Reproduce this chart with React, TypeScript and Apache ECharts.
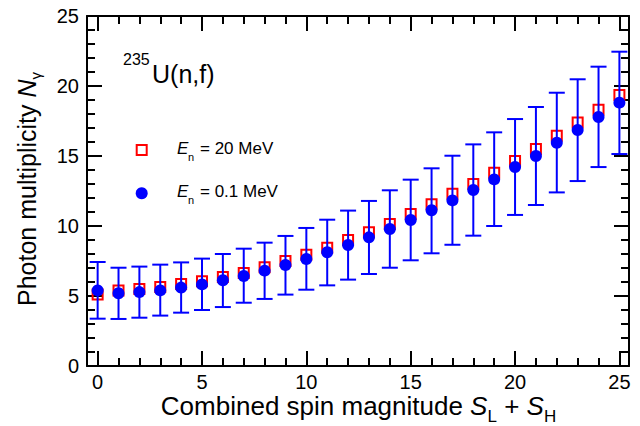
import React, { useEffect, useRef } from "react";
import * as echarts from "echarts";

const spinValues = [0, 1, 2, 3, 4, 5, 6, 7, 8, 9, 10, 11, 12, 13, 14, 15, 16, 17, 18, 19, 20, 21, 22, 23, 24, 25];
const highEnergyMean = [5.1, 5.4, 5.5, 5.65, 5.85, 6.05, 6.35, 6.65, 7.05, 7.5, 7.95, 8.45, 9.0, 9.55, 10.15, 10.85, 11.55, 12.3, 13.0, 13.8, 14.65, 15.5, 16.45, 17.4, 18.3, 19.35];
const lowEnergyMean = [5.4, 5.2, 5.28, 5.4, 5.6, 5.83, 6.12, 6.43, 6.81, 7.21, 7.64, 8.12, 8.64, 9.19, 9.79, 10.43, 11.12, 11.83, 12.57, 13.33, 14.21, 15.0, 15.95, 16.86, 17.79, 18.81];
const lowEnergyLower = [3.38, 3.36, 3.45, 3.6, 3.81, 4.0, 4.21, 4.52, 4.79, 5.1, 5.45, 5.76, 6.17, 6.57, 7.02, 7.55, 8.05, 8.66, 9.31, 10.0, 10.79, 11.5, 12.4, 13.21, 14.21, 15.14];
const lowEnergyUpper = [7.43, 7.02, 7.1, 7.24, 7.4, 7.67, 8.0, 8.38, 8.81, 9.29, 9.86, 10.45, 11.1, 11.79, 12.55, 13.31, 14.12, 15.02, 15.83, 16.69, 17.64, 18.5, 19.52, 20.48, 21.38, 22.45];
const yTicks = [0, 5, 10, 15, 20, 25];

const FONT = "'Liberation Sans', Arial, Helvetica, sans-serif";
const BLUE = "#0000ff";
const RED = "#ff0000";

export default function App() {
  const ref = useRef<HTMLDivElement>(null);
  useEffect(() => {
    document.body.style.margin = "0";
    if (!ref.current) return;
    const chart = echarts.init(ref.current, null, { renderer: "svg" });

    const axisCommon = {
      axisLine: { show: true, onZero: false, lineStyle: { color: "#000", width: 2 } },
      axisTick: { show: true, inside: true, length: 15, lineStyle: { color: "#000", width: 2 } },
      minorTick: { show: true, splitNumber: 5, length: 8, lineStyle: { color: "#000", width: 2 } },
      splitLine: { show: false },
      minorSplitLine: { show: false },
    };
    const xBase = { type: "value", min: -0.51, max: 25.46, minInterval: 5, maxInterval: 5, splitNumber: 5 };
    const yBase = { type: "value", min: yTicks[0], max: yTicks[yTicks.length - 1], interval: 5 };

    const legendTextStyle = (t: string) => ({ text: t, font: `17px ${FONT}`, fill: "#000", textVerticalAlign: "middle" });

    chart.setOption({
      animation: false,
      backgroundColor: "#fff",
      grid: { left: 87, top: 16, width: 542, height: 350, containLabel: false },
      xAxis: [
        {
          ...xBase, ...axisCommon, position: "bottom",
          axisLabel: { show: true, color: "#000", fontSize: 20, fontFamily: FONT, margin: 6, showMinLabel: false, showMaxLabel: false,
            formatter: (v: number) => (Number.isInteger(v) ? String(v) : "") },
        },
        {
          ...xBase, ...axisCommon, position: "top",
          axisLabel: { show: false },
        },
      ],
      yAxis: [
        {
          ...yBase, ...axisCommon, position: "left",
          axisLabel: { show: true, color: "#000", fontSize: 20, fontFamily: FONT, margin: 8 },
        },
        {
          ...yBase, ...axisCommon, position: "right",
          axisLabel: { show: false },
        },
      ],
      series: [
        {
          type: "scatter",
          name: "En = 20 MeV",
          xAxisIndex: 0, yAxisIndex: 0,
          symbol: "rect",
          symbolSize: 10,
          itemStyle: { color: "rgba(0,0,0,0)", borderColor: RED, borderWidth: 2, opacity: 1 },
          data: spinValues.map((x, i) => [x, highEnergyMean[i]]),
          z: 2,
        },
        {
          type: "custom",
          name: "err",
          xAxisIndex: 0, yAxisIndex: 0,
          encode: { x: 0, y: [1, 2] },
          data: spinValues.map((x, i) => [x, lowEnergyLower[i], lowEnergyUpper[i]]),
          renderItem: (params: any, api: any) => {
            const x = api.value(0);
            const lo = api.coord([x, api.value(1)]);
            const hi = api.coord([x, api.value(2)]);
            const hw = 8;
            const style = { stroke: BLUE, lineWidth: 2, fill: "none" };
            return {
              type: "group",
              children: [
                { type: "line", shape: { x1: lo[0], y1: lo[1], x2: hi[0], y2: hi[1] }, style },
                { type: "line", shape: { x1: lo[0] - hw, y1: lo[1], x2: lo[0] + hw, y2: lo[1] }, style },
                { type: "line", shape: { x1: hi[0] - hw, y1: hi[1], x2: hi[0] + hw, y2: hi[1] }, style },
              ],
            };
          },
          z: 3,
        },
        {
          type: "scatter",
          name: "En = 0.1 MeV",
          xAxisIndex: 0, yAxisIndex: 0,
          symbol: "circle",
          symbolSize: 12,
          itemStyle: { color: BLUE, opacity: 1 },
          data: spinValues.map((x, i) => [x, lowEnergyMean[i]]),
          z: 4,
        },
      ],
      graphic: [
        { type: "text", left: 123, top: 51, style: { text: "235", font: `16px ${FONT}`, fill: "#000" } },
        { type: "text", left: 152, top: 61, style: { text: "U(n,f)", font: `25px ${FONT}`, fill: "#000" } },
        { type: "rect", shape: { x: 136.7, y: 145, width: 10, height: 10 }, style: { stroke: RED, lineWidth: 2, fill: "none" } },
        { type: "circle", shape: { cx: 141.7, cy: 193.3, r: 6 }, style: { fill: BLUE } },
        { type: "text", x: 177, y: 148, style: { ...legendTextStyle("E"), font: `italic 17px ${FONT}` } },
        { type: "text", x: 188, y: 157, style: { ...legendTextStyle("n"), font: `11px ${FONT}` } },
        { type: "text", x: 200, y: 148, style: legendTextStyle("= 20 MeV") },
        { type: "text", x: 177, y: 191.3, style: { ...legendTextStyle("E"), font: `italic 17px ${FONT}` } },
        { type: "text", x: 188, y: 200.3, style: { ...legendTextStyle("n"), font: `11px ${FONT}` } },
        { type: "text", x: 200, y: 191.3, style: legendTextStyle("= 0.1 MeV") },
        {
          type: "text", x: 358.5, y: 406,
          style: {
            text: "{a|Combined spin magnitude }{i|S}{s|L}{a| + }{i|S}{s|H}",
            textAlign: "center", textVerticalAlign: "middle",
            rich: {
              a: { fontSize: 26, fontFamily: FONT, color: "#000", lineHeight: 34 },
              i: { fontSize: 26, fontFamily: FONT, fontStyle: "italic", color: "#000", lineHeight: 34 },
              s: { fontSize: 17, fontFamily: FONT, color: "#000", lineHeight: 13, padding: [19, 0, 0, 0], verticalAlign: "top" },
            },
          },
        },
        {
          type: "text", x: 27, y: 189, rotation: Math.PI / 2,
          style: {
            text: "{a|Photon multiplicity }{i|N}{s|γ}",
            textAlign: "center", textVerticalAlign: "middle",
            rich: {
              a: { fontSize: 25, fontFamily: FONT, color: "#000", lineHeight: 34 },
              i: { fontSize: 25, fontFamily: FONT, fontStyle: "italic", color: "#000", lineHeight: 34 },
              s: { fontSize: 15, fontFamily: FONT, color: "#000", lineHeight: 14, padding: [18, 0, 0, 0], verticalAlign: "top" },
            },
          },
        },
      ],
    });
    return () => chart.dispose();
  }, []);
  return <div ref={ref} style={{ width: 640, height: 426 }} />;
}
